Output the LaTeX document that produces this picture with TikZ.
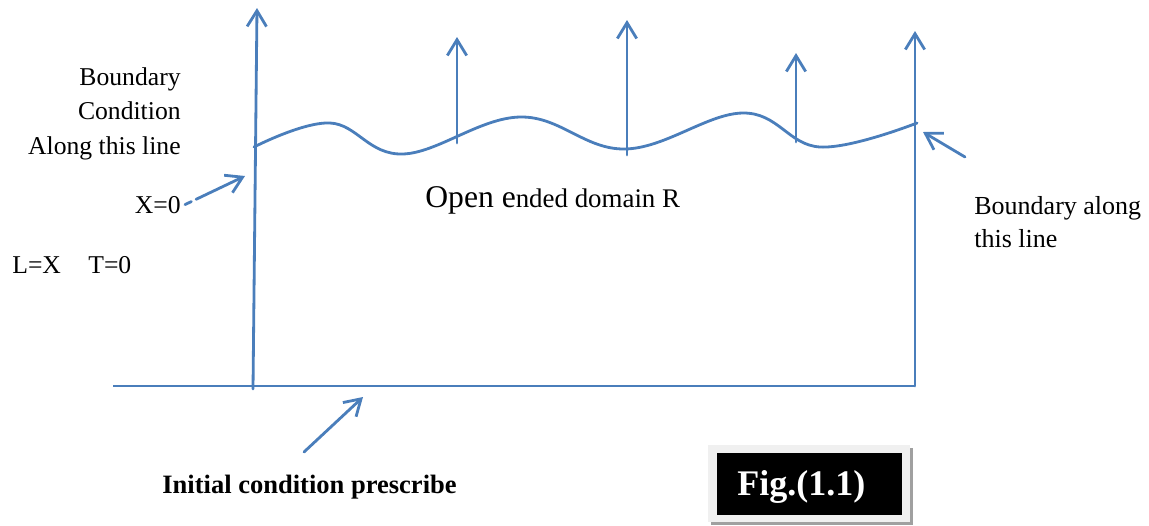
\documentclass[tikz,border=0pt]{standalone}
\usepackage{fontspec}
\setmainfont{Liberation Serif}
\usetikzlibrary{arrows.meta}
\definecolor{lineblue}{RGB}{74,126,187}
\definecolor{figframe}{RGB}{240,240,240}
\definecolor{figshadow}{RGB}{160,160,160}
\tikzset{
  bline/.style={draw=lineblue, line width=1.6pt, line cap=round},
  barrow/.style={bline, -{Straight Barb[length=9pt,width=11pt]}},
  lbl/.style={inner sep=0pt, font=\fontsize{14.6}{19.8}\selectfont},
}
\begin{document}
\begin{tikzpicture}[x=0.02cm,y=-0.02cm]
\useasboundingbox (0,0) rectangle (1149,525);

% axes of the domain
\coordinate (o1) at (253,389);
\coordinate (t1) at (257,8);
\coordinate (o2) at (915,386);
\coordinate (t2) at (915,31);
\coordinate (b0) at (113,386);
\coordinate (b1) at (203,386);
\draw[bline, line width=1.45pt, line cap=butt] (b0) -- (b1);
\draw[bline, line cap=butt] (b1) -- (o2);
\draw[barrow] (o1) -- (t1);
\draw[barrow] (o2) -- (t2);

% open upper boundary
\draw[bline] plot[smooth, tension=0.65] coordinates
  {(254,147) (330,123) (403,154) (520,117) (625,149) (743,113) (820,147) (917,123)};

% arrows through the curve
\coordinate (s1) at (457,143); \coordinate (e1) at (457,37);
\coordinate (s2) at (627,155); \coordinate (e2) at (627,20);
\coordinate (s3) at (796,142); \coordinate (e3) at (796,53);
\draw[barrow] (s1) -- (e1);
\draw[barrow] (s2) -- (e2);
\draw[barrow] (s3) -- (e3);

% labels on the left
\node[lbl, anchor=north east, align=right] (bcond) at (181,67) {Boundary\\Condition\\Along this line};
\node[lbl, anchor=base east] (xzero) at (181,213) {X=0};
\node[lbl, anchor=base west] (lx) at (12,273) {L=X};
\node[lbl, anchor=base west] (tzero) at (88,273) {T=0};
\coordinate (xa) at (245,176);
\draw[barrow, dash pattern=on 4pt off 3pt on 60pt] (xzero.east) ++(4,0) coordinate (xs) (xs) -- (xa);

% domain label
\node[inner sep=0pt, anchor=base west] (dom) at (425,207)
  {\fontsize{18}{20}\selectfont Open e\fontsize{15.3}{18}\selectfont nded domain R};

% labels on the right
\node[lbl, anchor=north west, align=left, font=\fontsize{14.8}{18.7}\selectfont] (balong) at (974,196) {Boundary along\\this line};
\coordinate (rs) at (965,157);
\coordinate (ra) at (923,132);
\draw[barrow] (rs) -- (ra);

% initial condition
\node[inner sep=0pt, anchor=base west, font=\fontsize{15.1}{18}\selectfont\bfseries] (init) at (162,493) {Initial condition prescribe};
\coordinate (is) at (304,452);
\coordinate (ia) at (363,397);
\draw[barrow] (is) -- (ia);

% figure tag
\fill[figshadow] (711,448) rectangle (913,525);
\fill[figframe] (708,445) rectangle (910,522);
\fill[black] (717,453) rectangle (902,515);
\node[inner sep=0pt, anchor=base west, text=white, font=\fontsize{20.5}{24}\selectfont\bfseries] (fig) at (737,495) {Fig.(1.1)};
\end{tikzpicture}
\end{document}
